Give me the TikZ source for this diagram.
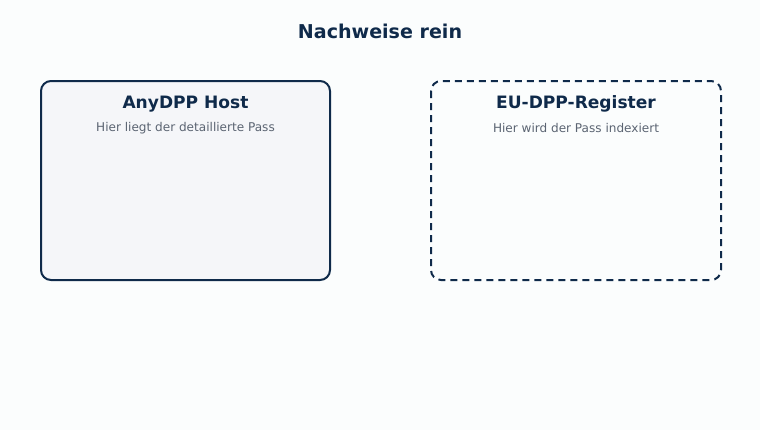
\documentclass[tikz,border=0pt]{standalone}
\usepackage{fontspec}
\setmainfont{DejaVu Sans}
\usetikzlibrary{positioning}
\definecolor{navy}{HTML}{0F2A4A}
\definecolor{subgray}{HTML}{5B6472}
\definecolor{pagebg}{HTML}{FBFDFD}
\definecolor{hostfill}{HTML}{F5F6F9}
\tikzset{
  panel/.style={line width=1.5pt,draw=navy,rounded corners=7.5pt},
  paneltitle/.style={font=\bfseries\fontsize{12.8}{15}\selectfont,text=navy,inner sep=0pt,anchor=center},
  panelnote/.style={font=\fontsize{9.05}{11}\selectfont,text=subgray,inner sep=0pt,anchor=center}
}

\begin{document}
\begin{tikzpicture}[x=0.75pt,y=-0.75pt]
    \useasboundingbox[fill=pagebg] (0,0) rectangle (760,430);
    \node[font=\bfseries\fontsize{14.3}{17}\selectfont,text=navy,inner sep=0pt] (title) at (380,31) {Nachweise rein};
    % linke Box
    \draw[panel,fill=hostfill] (41,81) rectangle (330,280);
    \node[paneltitle] (host) at (185.5,104) {AnyDPP Host};
    \node[panelnote,below=18pt of host.center,anchor=center] (hostnote) {Hier liegt der detaillierte Pass};
    % rechte Box
    \draw[panel,dash pattern=on 5.25pt off 3.75pt] (431,81) rectangle (721,280);
    \node[paneltitle] (register) at (576,104) {EU-DPP-Register};
    \node[panelnote,below=18pt of register.center,anchor=center] (registernote) {Hier wird der Pass indexiert};
  \end{tikzpicture}
\end{document}
